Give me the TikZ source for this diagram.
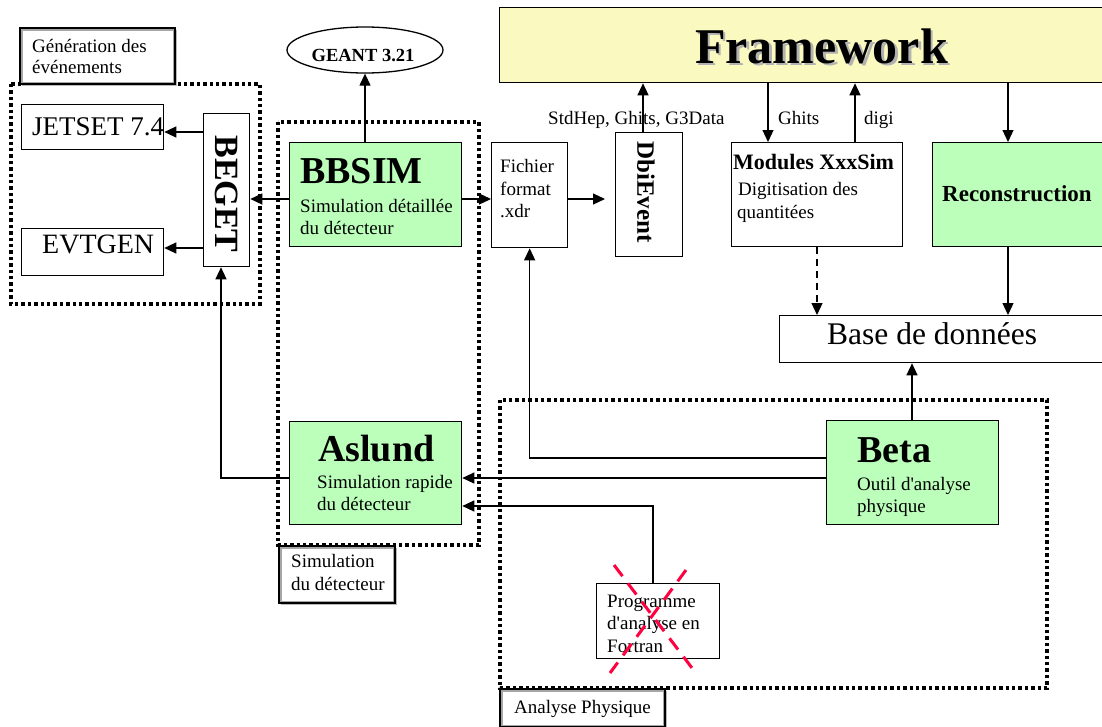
\documentclass[tikz,border=0pt]{standalone}
\usepackage{fontspec}
\setmainfont{Liberation Serif}
\usetikzlibrary{arrows.meta,shapes.geometric}
\definecolor{boxgreen}{RGB}{187,255,187}
\definecolor{fwyellow}{RGB}{250,250,192}
\definecolor{crossred}{RGB}{255,0,64}
\begin{document}
\begin{tikzpicture}[x=1pt,y=-1pt,
  blk/.style={draw=black,line width=1.3pt,inner sep=0pt,anchor=north west,fill=white},
  gblk/.style={blk,fill=boxgreen},
  txt/.style={inner sep=0pt,anchor=base west,font=\fontsize{19}{23}\selectfont},
  bigt/.style={inner sep=0pt,anchor=base west,font=\bfseries\fontsize{38}{38}\selectfont},
  arr/.style={line width=1.2pt,-{Triangle[length=12pt,width=11pt]}},
  dotbox/.style={line width=3.4pt,dash pattern=on 3.4pt off 3pt},
  labbox/.style={draw=black,line width=2.2pt,inner sep=0pt,anchor=north west,fill=white},
  cross/.style={draw=crossred,line width=3pt,dash pattern=on 14pt off 9pt}
]
\useasboundingbox (0,0) rectangle (1102,726);
\clip (0,0) rectangle (1102,726);
\fill[white] (0,0) rectangle (1102,726);

% helper coordinates
\coordinate (c132) at (0,132);
\coordinate (c248) at (0,248);
\coordinate (c199) at (0,199);
\coordinate (c458) at (0,458);
\coordinate (c478) at (0,478);
\coordinate (c506) at (0,506);
\coordinate (x221) at (221,0);
\coordinate (x643) at (643,0);
\coordinate (x653) at (653,0);
\coordinate (x768) at (768,0);
\coordinate (x817) at (817,0);
\coordinate (x855) at (855,0);
\coordinate (x912) at (912,0);
\coordinate (x1008) at (1008,0);
\coordinate (dbiin) at (605,199);

% dotted group frames
\draw[dotbox] (11,84) rectangle (260,304);
\draw[dotbox] (278,122) rectangle (479,545);
\draw[dotbox] (500,400) rectangle (1047,688);

% label frames
\foreach \nm/\xx/\yy/\ww/\hh in {genlab/19/27/155/56, simlab/278/545/116/57, analab/499/688/165/38}{
  \fill[gray!55] (\xx+3,\yy+3) rectangle (\xx+\ww+3,\yy+\hh+3);
  \node[labbox,minimum width=\ww pt,minimum height=\hh pt] (\nm) at (\xx,\yy) {};
  \draw[gray!70,line width=1.2pt] ([shift={(3,3)}]\nm.north west) rectangle ([shift={(-3,-3)}]\nm.south east);
}
\node[txt] (genl1) at (32,52) {Génération des};
\node[txt] (genl2) at (32,73) {événements};
\node[txt] (siml1) at (291,567) {Simulation};
\node[txt] (siml2) at (291,590) {du détecteur};
\node[txt] (anal1) at (514,713) {Analyse Physique};

% boxes
\node[blk,minimum width=142pt,minimum height=45pt] (jetset) at (21,104) {};
\node[blk,minimum width=142pt,minimum height=47pt] (evtgen) at (21,228) {};
\node[blk,minimum width=46pt,minimum height=153pt] (beget) at (203,113) {};
\node[draw=black,line width=1.3pt,ellipse,minimum width=156pt,minimum height=46pt,inner sep=0pt,fill=white] (geant) at (365,50) {};
\node[gblk,minimum width=172pt,minimum height=104pt] (bbsim) at (289,142) {};
\node[gblk,minimum width=172pt,minimum height=103pt] (aslund) at (289,421) {};
\node[blk,minimum width=76pt,minimum height=105pt] (fichier) at (491,142) {};
\node[blk,minimum width=67pt,minimum height=124pt] (dbi) at (615,132) {};
\node[blk,fill=fwyellow,minimum width=640pt,minimum height=75pt] (framework) at (499,7) {};
\node[blk,minimum width=171pt,minimum height=104pt] (modules) at (731,142) {};
\node[gblk,minimum width=220pt,minimum height=104pt] (recon) at (932,142) {};
\node[blk,minimum width=400pt,minimum height=47pt] (base) at (779,315) {};
\node[gblk,minimum width=172pt,minimum height=104pt] (beta) at (826,420) {};
\node[blk,minimum width=123pt,minimum height=75pt] (prog) at (596,583) {};

% texts
\node[inner sep=0pt,anchor=base west,font=\fontsize{27}{27}\selectfont] (jetsett) at (32,135) {JETSET 7.4};
\node[inner sep=0pt,anchor=base west,font=\fontsize{28}{28}\selectfont] (evtgent) at (42,253) {EVTGEN};
\node[inner sep=0pt,rotate=-90,font=\bfseries\fontsize{34}{34}\selectfont] (begett) at (227,194) {BEGET};
\node[inner sep=0pt,anchor=base,font=\bfseries\fontsize{18.5}{18.5}\selectfont] (geantt) at (363,61) {GEANT 3.21};
\node[bigt] (bbsimt) at (300,183) {BBSIM};
\node[txt] (bbsim1) at (300,212) {Simulation détaillée};
\node[txt] (bbsim2) at (300,234) {du détecteur};
\node[bigt] (aslundt) at (318,461) {Aslund};
\node[txt] (aslund1) at (317,488) {Simulation rapide};
\node[txt] (aslund2) at (317,510) {du détecteur};
\node[txt] (fich1) at (500,172) {Fichier};
\node[txt] (fich2) at (500,195) {format};
\node[txt] (fich3) at (500,217) {.xdr};
\node[inner sep=0pt,rotate=-90,font=\bfseries\fontsize{25}{25}\selectfont] (dbit) at (646,192) {DbiEvent};
\node[inner sep=0pt,anchor=base west,font=\bfseries\fontsize{50}{50}\selectfont,text=gray!60] (fwshadow) at (697.5,65.5) {Framework};
\node[inner sep=0pt,anchor=base west,font=\bfseries\fontsize{50}{50}\selectfont] (fwt) at (695,63) {Framework};
\node[inner sep=0pt,anchor=base west,font=\bfseries\fontsize{22}{22}\selectfont] (modt) at (733,169) {Modules XxxSim};
\node[txt] (mod1) at (738,195) {Digitisation des};
\node[txt] (mod2) at (737,218) {quantitées};
\node[inner sep=0pt,anchor=base west,font=\bfseries\fontsize{23}{23}\selectfont] (recont) at (942,201) {Reconstruction};
\node[inner sep=0pt,anchor=base west,font=\fontsize{31.5}{31.5}\selectfont] (baset) at (827,344) {Base de données};
\node[bigt] (betat) at (857,462) {Beta};
\node[txt] (beta1) at (857,490) {Outil d\textquotesingle analyse};
\node[txt] (beta2) at (857,512) {physique};
\node[txt] (prog1) at (607,607) {Programme};
\node[txt] (prog2) at (607,629) {d\textquotesingle analyse en};
\node[txt] (prog3) at (607,652) {Fortran};

% connectors
\draw[arr] (beget.west |- c132) -- (jetset.east |- c132);
\draw[arr] (beget.west |- c248) -- (evtgen.east |- c248);
\draw[arr] (bbsim.west |- c199) -- (beget.east |- c199);
\draw[arr] (bbsim.east |- c199) -- (fichier.west |- c199);
\draw[arr] (fichier.east |- c199) -- (dbiin);
\draw[arr] (bbsim.north -| geant.south) -- (geant.south);
\draw[arr] (framework.south -| x768) -- (modules.north -| x768);
\draw[arr] (modules.north -| x855) -- (framework.south -| x855);
\draw[arr] (framework.south -| x1008) -- (recon.north -| x1008);
\draw[arr] (recon.south -| x1008) -- (base.north -| x1008);
\draw[arr,dash pattern=on 7pt off 5pt] (modules.south -| x817) -- (base.north -| x817);
\draw[arr] (beta.north -| x912) -- (base.south -| x912);
\draw[arr] (beta.west |- c458) -| (fichier.south);
\draw[arr] (beta.west |- c478) -- (aslund.east |- c478);
\draw[arr] (prog.north -| x653) |- (aslund.east |- c506);
\draw[arr] (aslund.west |- c478) -| (x221 |- beget.south);

% connector labels
\node[txt] (lblstd) at (548,124) {StdHep, Ghits, G3Data};
\draw[arr] (dbi.north -| x643) -- (framework.south -| x643);
\node[txt] (lblghits) at (778,124) {Ghits};
\node[txt] (lbldigi) at (864,124) {digi};

% red cross over Fortran programme
\draw[cross] (614,565) -- (692,668);
\draw[cross] (686,570) -- (610,673);
\end{tikzpicture}
\end{document}
